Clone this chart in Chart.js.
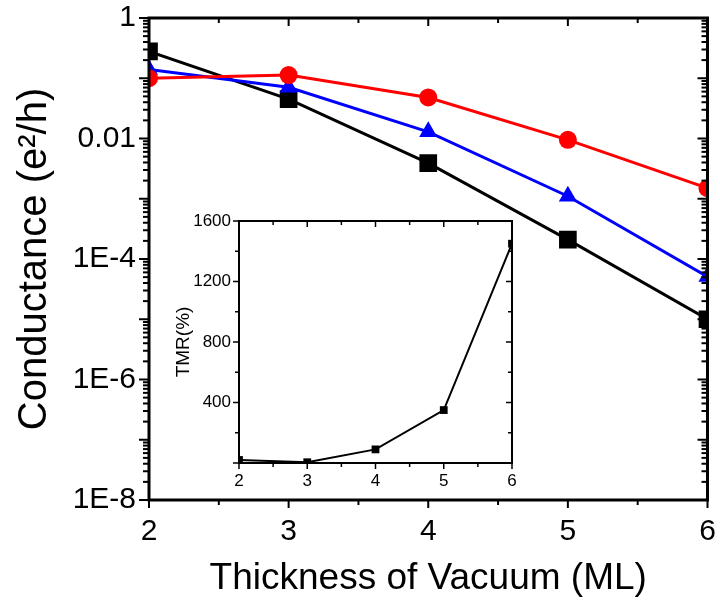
<!DOCTYPE html>
<html><head><meta charset="utf-8">
<script src="https://cdn.jsdelivr.net/npm/chart.js@4/dist/chart.umd.min.js"></script>
<style>
html,body{margin:0;padding:0;background:#fff;}
#wrap{position:relative;width:720px;height:608px;overflow:hidden;}
#main{position:absolute;left:0;top:0;width:720px;height:608px;}
#inset{position:absolute;left:160px;top:205px;width:362px;height:290px;}
</style></head><body>
<div id="wrap">
<canvas id="main" width="720" height="608"></canvas>
<canvas id="inset" width="362" height="290"></canvas>
</div>
<script>
// ---- data ----
const thickness = [2, 3, 4, 5, 6];
const condBlack = [0.28, 0.045, 0.0039, 2.1e-4, 1.0e-5];
const condRed   = [0.10, 0.113, 0.048, 0.0095, 0.0015];
const condBlue  = [0.14, 0.071, 0.0129, 0.0011, 5.1e-5];
const tmrValues = [20, 5, 90, 350, 1450];

const xTickValues = [2, 3, 4, 5, 6];
const yTickValues = [1e-8, 1e-6, 1e-4, 1e-2, 1];
const yTickLabels = ['1E-8', '1E-6', '1E-4', '0.01', '1'];
const insetYTickValues = [0, 400, 800, 1200, 1600];
const insetYTickLabels = ['', '400', '800', '1200', '1600'];

const FONT = "'Liberation Sans', Arial, Helvetica, sans-serif";
const pts = ys => thickness.map((x, i) => ({x: x, y: ys[i]}));

function seg(ctx, x1, y1, x2, y2) { ctx.beginPath(); ctx.moveTo(x1, y1); ctx.lineTo(x2, y2); ctx.stroke(); }
function noPad(s) { s.paddingLeft = 0; s.paddingRight = 0; s.paddingTop = 0; s.paddingBottom = 0; }

// frame + tick marks drawn from the scales
const framePlugin = {
  id: 'frame',
  afterDraw(chart, args, o) {
    const {ctx, chartArea: a, scales} = chart;
    const xs = scales.x, ys = scales.y;
    ctx.save();
    ctx.strokeStyle = '#000';
    ctx.lineWidth = o.tickWidth;
    o.xMajor.forEach(v => { const p = xs.getPixelForValue(v);
      seg(ctx, p, a.bottom, p, a.bottom + o.xMajLen); seg(ctx, p, a.top, p, a.top + o.xMajLen); });
    o.xMinor.forEach(v => { const p = xs.getPixelForValue(v);
      seg(ctx, p, a.bottom, p, a.bottom + o.xMinLen); seg(ctx, p, a.top, p, a.top + o.xMinLen); });
    o.yMajor.forEach(v => { const p = ys.getPixelForValue(v);
      seg(ctx, a.left, p, a.left - o.yMajLen, p); seg(ctx, a.right, p, a.right - o.yMajLen, p); });
    o.yMinor.forEach(v => { const p = ys.getPixelForValue(v);
      seg(ctx, a.left, p, a.left - o.yMinLen, p); seg(ctx, a.right, p, a.right - o.yMinLen, p); });
    ctx.lineWidth = o.frameWidth;
    ctx.strokeRect(a.left, a.top, a.right - a.left, a.bottom - a.top);
    ctx.restore();
  }
};

// tick positions
const mainXMinor = [2.5, 3.5, 4.5, 5.5];
const mainYMajor = [], mainYMinor = [];
for (let e = -8; e <= 0; e++) {
  mainYMajor.push(Math.pow(10, e));
  if (e < 0) for (let k = 2; k <= 9; k++) mainYMinor.push(k * Math.pow(10, e));
}

new Chart(document.getElementById('main'), {
  type: 'line',
  data: {
    datasets: [
      {data: pts(condRed), borderColor: '#ff0000', backgroundColor: '#ff0000', borderWidth: 3,
       pointStyle: 'circle', pointRadius: 9, pointBorderWidth: 0},
      {data: pts(condBlue), borderColor: '#0000ff', backgroundColor: '#0000ff', borderWidth: 3,
       pointStyle: 'triangle', pointRadius: 10.5, pointBorderWidth: 0},
      {data: pts(condBlack), borderColor: '#000000', backgroundColor: '#000000', borderWidth: 3,
       pointStyle: 'rect', pointRadius: 12.5, pointBorderWidth: 0}
    ]
  },
  options: {
    responsive: false, animation: false, devicePixelRatio: 1,
    layout: {padding: {left: 0, right: 9, top: 18, bottom: 0}},
    plugins: {legend: {display: false}, tooltip: {enabled: false},
      frame: {tickWidth: 2, frameWidth: 3, xMajLen: 8, xMinLen: 5, yMajLen: 10, yMinLen: 6,
              xMajor: xTickValues, xMinor: mainXMinor, yMajor: mainYMajor, yMinor: mainYMinor}},
    elements: {line: {tension: 0}},
    scales: {
      x: {type: 'linear', min: 2, max: 6,
          grid: {display: false, drawTicks: false}, border: {display: false},
          afterBuildTicks: s => { s.ticks = xTickValues.map(v => ({value: v})); },
          afterFit: s => { s.height = 108; noPad(s); },
          ticks: {color: '#000', font: {family: FONT, size: 30}, padding: 14, maxRotation: 0,
                  callback: v => String(v)},
          title: {display: true, text: 'Thickness of Vacuum (ML)', color: '#000',
                  font: {family: FONT, size: 37}, padding: {top: 0, bottom: 7}}},
      y: {type: 'logarithmic', min: 1e-8, max: 1,
          grid: {display: false, drawTicks: false}, border: {display: false},
          afterBuildTicks: s => { s.ticks = yTickValues.map(v => ({value: v})); },
          afterFit: s => { s.width = 149; noPad(s); },
          ticks: {color: '#000', font: {family: FONT, size: 30}, padding: 13,
                  callback: v => { const i = yTickValues.findIndex(t => Math.abs(Math.log10(t) - Math.log10(v)) < 1e-6); return i >= 0 ? yTickLabels[i] : ''; }},
          title: {display: true, text: 'Conductance (e²/h)', color: '#000',
                  font: {family: FONT, size: 40}, padding: {top: 11, bottom: 0}}}
    }
  },
  plugins: [framePlugin]
});

const insetXMinor = [2.5, 3.5, 4.5, 5.5];
const insetYMinor = [200, 600, 1000, 1400];

new Chart(document.getElementById('inset'), {
  type: 'line',
  data: {
    datasets: [
      {data: pts(tmrValues), borderColor: '#000', backgroundColor: '#000', borderWidth: 2,
       pointStyle: 'rect', pointRadius: 5.5, pointBorderWidth: 0}
    ]
  },
  options: {
    responsive: false, animation: false, devicePixelRatio: 1,
    layout: {padding: {left: 0, right: 10, top: 16, bottom: 0}},
    plugins: {legend: {display: false}, tooltip: {enabled: false},
      frame: {tickWidth: 1.5, frameWidth: 2, xMajLen: 6, xMinLen: 4, yMajLen: 6, yMinLen: 4,
              xMajor: xTickValues, xMinor: insetXMinor, yMajor: insetYTickValues, yMinor: insetYMinor}},
    elements: {line: {tension: 0}},
    scales: {
      x: {type: 'linear', min: 2, max: 6,
          grid: {display: false, drawTicks: false}, border: {display: false},
          afterBuildTicks: s => { s.ticks = xTickValues.map(v => ({value: v})); },
          afterFit: s => { s.height = 32; noPad(s); },
          ticks: {color: '#000', font: {family: FONT, size: 17}, padding: 8, maxRotation: 0,
                  callback: v => String(v)}},
      y: {type: 'linear', min: 0, max: 1600,
          grid: {display: false, drawTicks: false}, border: {display: false},
          afterBuildTicks: s => { s.ticks = insetYTickValues.map(v => ({value: v})); },
          afterFit: s => { s.width = 79; noPad(s); },
          ticks: {color: '#000', font: {family: FONT, size: 17}, padding: 8,
                  callback: v => { const i = insetYTickValues.indexOf(v); return i >= 0 ? insetYTickLabels[i] : ''; }},
          title: {display: true, text: 'TMR(%)', color: '#000',
                  font: {family: FONT, size: 19}, padding: {top: 12, bottom: 0}}}
    }
  },
  plugins: [framePlugin]
});
</script>
</body></html>
